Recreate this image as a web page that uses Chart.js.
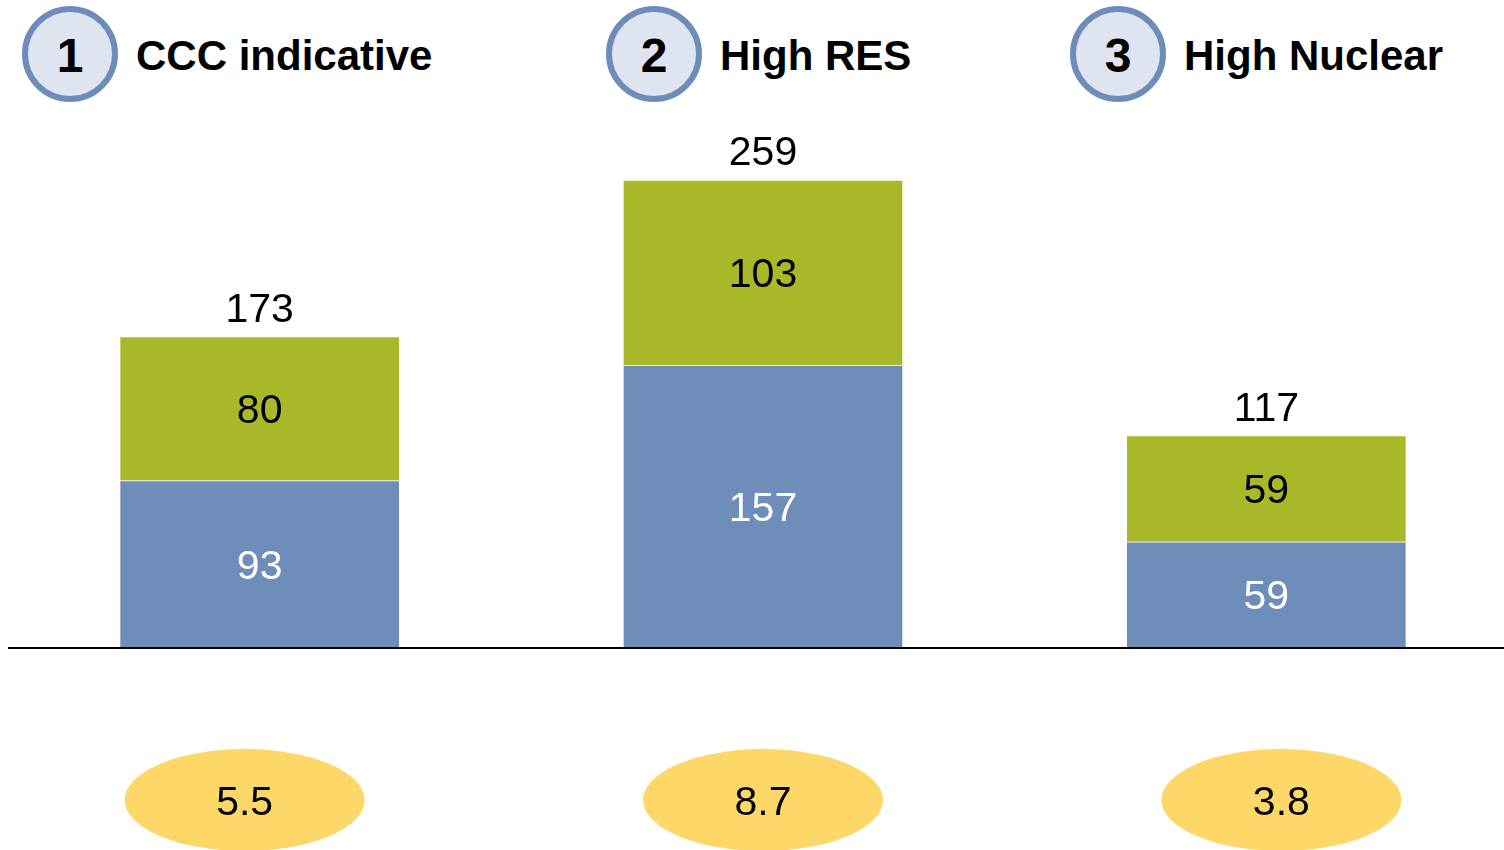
<!DOCTYPE html>
<html lang="en">
<head>
  <meta charset="UTF-8">
  <title>Scenario comparison</title>
  <style>
    body{margin:0;padding:0;background:#fff;overflow:hidden;font-family:"Liberation Sans",Arial,sans-serif;}
    #wrap{position:relative;width:1504px;height:850px;overflow:hidden;}
    #wrap canvas{position:absolute;left:0;top:0;}
    .hdr{position:absolute;top:6px;height:96px;display:flex;align-items:center;}
    .num{box-sizing:border-box;width:96px;height:96px;border-radius:50%;border:6px solid #6e8cb9;background:#dfe5f0;
      display:flex;align-items:center;justify-content:center;font-weight:700;font-size:48px;color:#000;padding-top:3px;}
    .ttl{margin-left:18px;font-weight:700;font-size:42px;color:#000;padding-top:3px;}
  </style>
  <script src="https://cdn.jsdelivr.net/npm/chart.js"></script>
</head>
<body>
<div id="wrap">
  <div class="hdr" style="left:22px"><div class="num">1</div><div class="ttl">CCC indicative</div></div>
  <div class="hdr" style="left:606px"><div class="num">2</div><div class="ttl">High RES</div></div>
  <div class="hdr" style="left:1070px"><div class="num">3</div><div class="ttl">High Nuclear</div></div>
  <canvas id="c" width="1518" height="850"></canvas>
</div>

<script>
/* ===== Data ===== */
const scenarios=["CCC indicative","High RES","High Nuclear"];
const lowerPart=[93,157,59];
const upperPart=[80,103,59];
const totals=[173,259,117];
const bubbleValues=["5.5","8.7","3.8"];

/* ===== Style ===== */
const BLUE="#6e8db9",GREEN="#a8b828",YELLOW="#fdd868";
const LABEL_FONT='41px "Liberation Sans", Arial, sans-serif';
const bubbleShift=[-15,0,15];

/* ===== Labels, baseline and bubbles ===== */
const overlay={
  id:"overlay",
  afterDatasetsDraw(chart){
    const {ctx,chartArea,scales:{x,y}}=chart;
    const base=y.getPixelForValue(0);
    ctx.save();
    // baseline
    ctx.strokeStyle="#000";ctx.lineWidth=2;
    ctx.beginPath();ctx.moveTo(chartArea.left,base);ctx.lineTo(chartArea.right,base);ctx.stroke();

    ctx.font=LABEL_FONT;ctx.textAlign="center";ctx.textBaseline="middle";
    // segment labels
    chart.data.datasets.forEach((ds,di)=>{
      chart.getDatasetMeta(di).data.forEach((bar,i)=>{
        const mid=(bar.y+bar.base)/2;
        ctx.fillStyle=di===0?"#fff":"#000";
        ctx.fillText(String(ds.data[i]),bar.x,mid+3);
      });
    });
    // totals above the stacks
    const top=chart.getDatasetMeta(1).data;
    top.forEach((bar,i)=>{
      ctx.fillStyle="#000";
      ctx.fillText(String(totals[i]),bar.x,bar.y-26);
    });
    // yellow bubbles under the axis
    bubbleValues.forEach((v,i)=>{
      const cx=x.getPixelForValue(i)+bubbleShift[i],cy=800;
      ctx.fillStyle=YELLOW;
      ctx.beginPath();ctx.ellipse(cx,cy,120,51,0,0,Math.PI*2);ctx.fill();
      ctx.fillStyle="#000";
      ctx.fillText(v,cx,cy+4);
    });
    ctx.restore();
  }
};

new Chart(document.getElementById("c"),{
  type:"bar",
  data:{
    labels:scenarios,
    datasets:[
      {label:"lower",data:lowerPart,backgroundColor:BLUE,borderColor:"rgba(255,255,255,0.55)",
        borderWidth:{top:1,left:1,right:1,bottom:0},borderSkipped:false},
      {label:"upper",data:upperPart,backgroundColor:GREEN,borderColor:"rgba(255,255,255,0.55)",
        borderWidth:{top:1,left:1,right:1,bottom:0},borderSkipped:false}
    ]
  },
  options:{
    responsive:false,animation:false,
    layout:{padding:{left:8,right:0,top:108,bottom:202}},
    datasets:{bar:{barThickness:280}},
    plugins:{legend:{display:false},tooltip:{enabled:false}},
    scales:{
      x:{stacked:true,display:false},
      y:{stacked:true,display:false,min:0,max:300}
    }
  },
  plugins:[overlay]
});
</script>
</body>
</html>
